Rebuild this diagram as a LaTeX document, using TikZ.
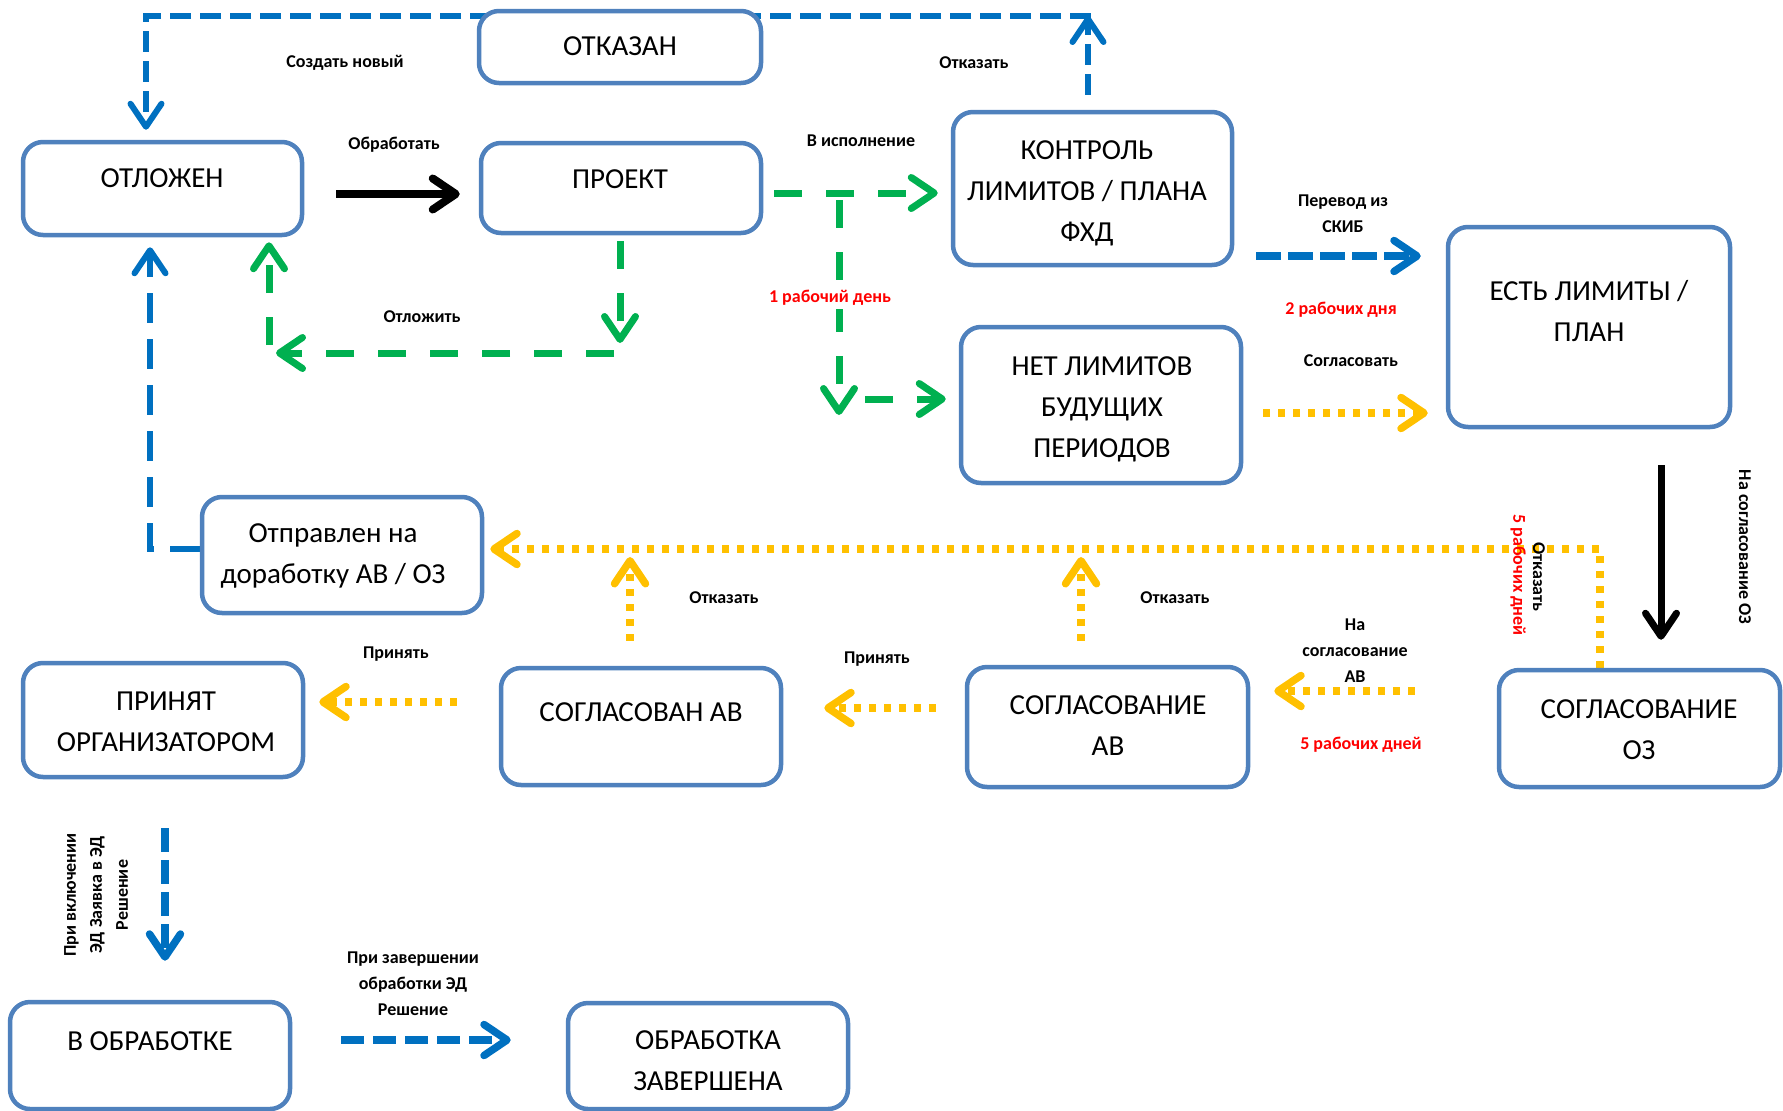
\documentclass[tikz,border=0pt]{standalone}
\usepackage{fontspec}
\setmainfont{Carlito}
\usetikzlibrary{arrows.meta}
\pgfdeclarelayer{bg}
\pgfsetlayers{bg,main}
\definecolor{boxblue}{RGB}{79,129,189}
\definecolor{arrblue}{RGB}{0,112,192}
\definecolor{arrgreen}{RGB}{0,176,80}
\definecolor{arryellow}{RGB}{255,192,0}
\definecolor{lblred}{RGB}{255,0,0}
\tikzset{
  box/.style={draw=boxblue, line width=4.5pt, rounded corners=20pt, fill=white, inner sep=0pt},
  boxtext/.style={font=\fontsize{29}{41}\selectfont, align=center, inner sep=0pt},
  lbl/.style={font=\bfseries\fontsize{18}{26}\selectfont, align=center, inner sep=0pt},
  redlbl/.style={lbl, text=lblred},
  chev/.style={-{Straight Barb[length=23pt,width=31pt,round]}},
  bluedash/.style={draw=arrblue, line width=6pt, dash pattern=on 21pt off 9pt, chev},
  bluelong/.style={draw=arrblue, line width=6pt, dash pattern=on 30pt off 16pt, chev},
  bluethick/.style={draw=arrblue, line width=7.5pt, dash pattern=on 24pt off 8pt, chev},
  greendash/.style={draw=arrgreen, line width=7pt, dash pattern=on 28pt off 24pt, chev},
  yellowdot/.style={draw=arryellow, line width=7.5pt, dash pattern=on 7pt off 8pt, chev},
  blackarrow/.style={draw=black, line width=8pt, chev},
}
\begin{document}
\begin{tikzpicture}[x=1pt,y=-1pt]
\useasboundingbox (0,0) rectangle (1783,1111);

% ---------- boxes ----------
\node[box, minimum width=282pt, minimum height=72pt]  (otkazan)    at (620,47) {};
\node[box, minimum width=279pt, minimum height=93pt]  (otl)        at (162.5,188.5) {};
\node[box, minimum width=280pt, minimum height=90pt]  (proj)       at (621,188) {};
\node[box, minimum width=279pt, minimum height=153pt] (kontrol)    at (1092.5,188.5) {};
\node[box, minimum width=280pt, minimum height=156pt] (net)        at (1101,405) {};
\node[box, minimum width=282pt, minimum height=200pt] (est)        at (1589,327) {};
\node[box, minimum width=280pt, minimum height=116pt] (otpr)       at (342,555) {};
\node[box, minimum width=280pt, minimum height=114pt] (prin)       at (163,720) {};
\node[box, minimum width=280pt, minimum height=117pt] (soglasovan) at (641,726.5) {};
\node[box, minimum width=281pt, minimum height=120pt] (soglav)     at (1107.5,727) {};
\node[box, minimum width=281pt, minimum height=117pt] (oz)         at (1639.5,728.5) {};
\node[box, minimum width=280pt, minimum height=107pt] (vobr)       at (150,1055.5) {};
\node[box, minimum width=280pt, minimum height=106pt] (zav)        at (708,1056) {};

% ---------- box texts ----------
\node[boxtext] (t-otkazan)    at (620,46) {ОТКАЗАН};
\node[boxtext] (t-otl)        at (162,178) {ОТЛОЖЕН};
\node[boxtext] (t-proj)       at (620,179) {ПРОЕКТ};
\node[boxtext] (t-kontrol)    at (1087,193.5) {КОНТРОЛЬ\\ЛИМИТОВ / ПЛАНА\\ФХД};
\node[boxtext] (t-net)        at (1102,409.5) {НЕТ ЛИМИТОВ\\БУДУЩИХ\\ПЕРИОДОВ};
\node[boxtext] (t-est)        at (1589,311) {ЕСТЬ ЛИМИТЫ /\\ПЛАН};
\node[boxtext] (t-otpr)       at (333,555.5) {Отправлен на\\доработку АВ / ОЗ};
\node[boxtext] (t-prin)       at (166,722) {ПРИНЯТ\\ОРГАНИЗАТОРОМ};
\node[boxtext] (t-soglasovan) at (641,712) {СОГЛАСОВАН АВ};
\node[boxtext] (t-soglav)     at (1108,725.5) {СОГЛАСОВАНИЕ\\АВ};
\node[boxtext] (t-oz)         at (1639,729.5) {СОГЛАСОВАНИЕ\\ОЗ};
\node[boxtext] (t-vobr)       at (150,1041) {В ОБРАБОТКЕ};
\node[boxtext] (t-zav)        at (708,1061) {ОБРАБОТКА\\ЗАВЕРШЕНА};

% ---------- connectors ----------
\begin{pgfonlayer}{bg}
\coordinate (topR) at (1088,16);
\coordinate (topL) at (146,16);
\draw[bluedash] ([xshift=-4.5pt,yshift=15pt]kontrol.north) -- (topR);
\draw[bluedash] ([xshift=3pt]topR) -- (topL) -- ([xshift=-16.5pt,yshift=10pt]otl.north);

\draw[blackarrow] ([xshift=32pt,yshift=-5.5pt]otl.east) -- ([xshift=-19pt,yshift=-6pt]proj.west);

\draw[greendash] ([xshift=11pt,yshift=-5pt]proj.east) -- ([xshift=-13pt,yshift=-4.5pt]kontrol.west);
\coordinate (gtop) at (839,200);
\coordinate (gbot) at (839,415);
\coordinate (gnet) at (865,399);
\draw[greendash] (gtop) -- (gbot);
\draw[greendash] (gnet) -- ([xshift=-13pt,yshift=6pt]net.west);

\coordinate (g1) at (620,343);
\coordinate (g2) at (614,353);
\coordinate (g3) at (276,353);
\coordinate (g4) at (269,345);
\draw[greendash] ([xshift=-1pt,yshift=-6pt]proj.south) -- (g1);
\draw[greendash] (g2) -- (g3);
\draw[greendash] (g4) -- ([xshift=106.5pt,yshift=-5pt]otl.south);

\draw[bluethick, dash pattern=on 25pt off 7pt] ([xshift=22pt,yshift=-67.5pt]kontrol.east) -- ([xshift=-25pt,yshift=71pt]est.west);

\draw[yellowdot] ([xshift=20pt,yshift=-8pt]net.east) -- ([xshift=-18pt,yshift=-86pt]est.west);

\draw[blackarrow, line width=7pt] ([xshift=72pt,yshift=-36pt]est.south) -- ([xshift=21.5pt,yshift=28pt]oz.north);

\coordinate (ycorner) at (1600,549);
\draw[yellowdot] ([xshift=-39.5pt]oz.north) -- (ycorner) -- ([xshift=6pt,yshift=6pt]otpr.east);

\coordinate (yup1) at (630,557);
\coordinate (yup2) at (1081,557);
\draw[yellowdot] ([xshift=-11pt,yshift=25pt]soglasovan.north) -- (yup1);
\draw[yellowdot] ([xshift=-26.5pt,yshift=24pt]soglav.north) -- (yup2);

\coordinate (bcorner) at (150,549);
\draw[bluelong] ([yshift=6pt]otpr.west) -- (bcorner) -- ([xshift=-12.5pt,yshift=-10pt]otl.south);

\draw[yellowdot] ([xshift=-82pt,yshift=37.5pt]oz.west) -- ([xshift=24pt,yshift=36pt]soglav.east);
\draw[yellowdot] ([xshift=-29pt,yshift=19pt]soglav.west) -- ([xshift=41pt,yshift=18.5pt]soglasovan.east);
\draw[yellowdot] ([xshift=-42pt,yshift=24.5pt]soglasovan.west) -- ([xshift=14pt,yshift=18pt]prin.east);

\draw[bluethick] ([xshift=2pt,yshift=-49pt]prin.south) -- ([xshift=15pt,yshift=39pt]vobr.north);
\draw[bluethick, dash pattern=on 23pt off 9pt] ([xshift=49pt,yshift=15.5pt]vobr.east) -- ([xshift=-55pt,yshift=16pt]zav.west);
\end{pgfonlayer}

% ---------- labels ----------
\node[lbl] (l-create) at (345,63) {Создать новый};
\node[lbl] (l-proc) at (394,145) {Обработать};
\node[lbl] (l-ref1) at (974,63) {Отказать};
\node[lbl] (l-exec) at (861,141) {В исполнение};
\node[lbl] (l-post) at (422,317) {Отложить};
\node[redlbl, fill=white, inner sep=3pt] (l-1day) at (830,298) {1 рабочий день};
\node[lbl] (l-skib) at (1343,214) {Перевод из\\СКИБ};
\node[redlbl] (l-2days) at (1341,310) {2 рабочих дня};
\node[lbl] (l-agree) at (1351,361) {Согласовать};
\node[lbl, rotate=-90] (l-oz) at (1745,547) {На согласование ОЗ};
\node[lbl, rotate=-90] (l-ref4) at (1539,577) {Отказать};
\node[redlbl, rotate=-90] (l-5days2) at (1518,575) {5 рабочих дней};
\node[lbl] (l-ref2) at (724,598) {Отказать};
\node[lbl] (l-ref3) at (1175,598) {Отказать};
\node[lbl] (l-av) at (1355,651) {На\\согласование\\АВ};
\node[redlbl] (l-5days) at (1361,745) {5 рабочих дней};
\node[lbl] (l-acc1) at (396,654) {Принять};
\node[lbl] (l-acc2) at (877,659) {Принять};
\node[lbl, rotate=90] (l-ed) at (96,895) {При включении\\ЭД Заявка в ЭД\\Решение};
\node[lbl] (l-fin) at (413,984) {При завершении\\обработки ЭД\\Решение};
\end{tikzpicture}
\end{document}
